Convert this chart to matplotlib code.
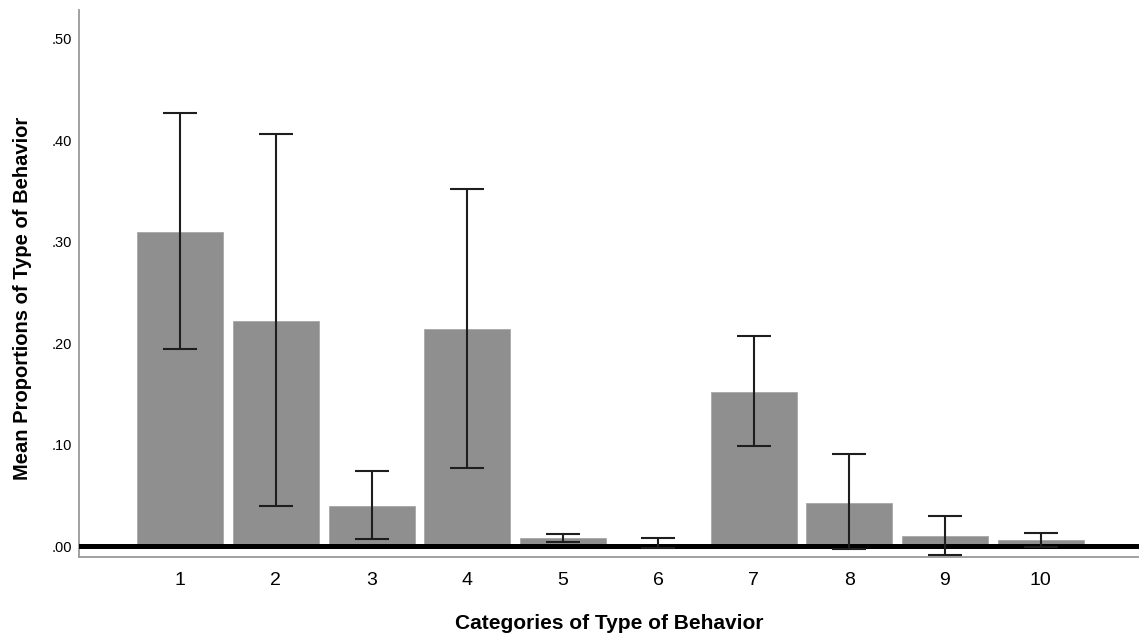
import numpy as np
import matplotlib
matplotlib.use('Agg')
import matplotlib.pyplot as plt

plt.rcParams['font.family'] = ['Liberation Sans', 'DejaVu Sans']

categories = ['1', '2', '3', '4', '5', '6', '7', '8', '9', '10']
means = [0.310, 0.222, 0.040, 0.214, 0.008, 0.002, 0.152, 0.043, 0.010, 0.006]
err_low = [0.194, 0.040, 0.007, 0.077, 0.004, -0.002, 0.099, -0.003, -0.009, -0.001]
err_high = [0.427, 0.406, 0.074, 0.352, 0.012, 0.008, 0.207, 0.091, 0.030, 0.013]
y_ticks = [0.0, 0.1, 0.2, 0.3, 0.4, 0.5]
y_ticklabels = ['.00', '.10', '.20', '.30', '.40', '.50']

fig = plt.figure(figsize=(11.39, 6.38), dpi=100)
ax = fig.add_axes([0.0694, 0.127, 0.9306, 0.857])

x = np.arange(1, len(categories) + 1)
means = np.array(means)
yerr = [means - np.array(err_low), np.array(err_high) - means]

# bars, zero reference line, then the error bars on top
ax.bar(x, means, width=0.9, color='#8f8f8f', edgecolor='#a8a8a8',
       linewidth=0.6, zorder=2)
ax.axhline(0, color='black', linewidth=3.6, zorder=3)
ax.errorbar(x, means, yerr=yerr, fmt='none', ecolor='#1e1e1e',
            elinewidth=1.5, capsize=12, capthick=1.5, zorder=4)

ax.set_xlim(-0.06, 11.03)
ax.set_ylim(-0.0105, 0.528)
ax.set_xticks(x)
ax.set_xticklabels(categories, fontsize=14)
ax.set_yticks(y_ticks)
ax.set_yticklabels(y_ticklabels, fontsize=10.5)
ax.tick_params(axis='both', length=0)
ax.tick_params(axis='x', pad=11)
ax.tick_params(axis='y', pad=5)

for side in ['top', 'right']:
    ax.spines[side].set_visible(False)
for side in ['left', 'bottom']:
    ax.spines[side].set_color('#9a9a9a')
    ax.spines[side].set_linewidth(1.3)

ax.set_xlabel('Categories of Type of Behavior', fontsize=15,
              fontweight='bold', labelpad=18)
ax.set_ylabel('Mean Proportions of Type of Behavior', fontsize=14.5,
              fontweight='bold')
ax.yaxis.set_label_coords(-0.044, 0.473)

plt.savefig('out.png', dpi=100)
